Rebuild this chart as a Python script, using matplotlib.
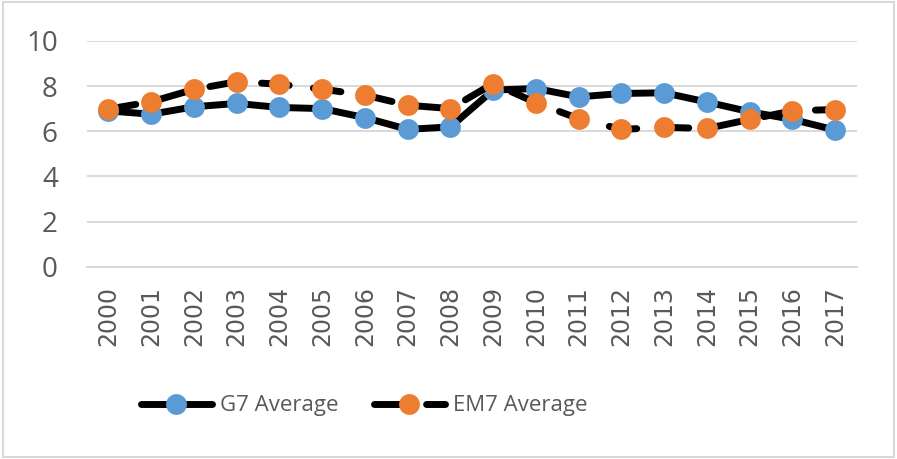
import matplotlib
matplotlib.use("Agg")
import matplotlib.pyplot as plt
from matplotlib.patches import Rectangle

# data
years = [str(y) for y in range(2000, 2018)]
g7_avg = [6.9, 6.75, 7.08, 7.23, 7.05, 7.0, 6.6, 6.08, 6.19, 7.82,
          7.89, 7.52, 7.67, 7.7, 7.29, 6.86, 6.52, 6.05]
em7_avg = [6.98, 7.3, 7.85, 8.19, 8.08, 7.86, 7.6, 7.15, 7.0, 8.11,
           7.26, 6.55, 6.08, 6.17, 6.12, 6.52, 6.9, 6.96]
y_ticks = [0, 2, 4, 6, 8, 10]

BLUE = "#5B9BD5"
ORANGE = "#ED7D31"
GRAY_TXT = "#595959"
GRID = "#D9D9D9"

fig = plt.figure(figsize=(8.97, 4.59), dpi=100)
ax = fig.add_axes([0.097, 0.419, 0.858, 0.492])

x = list(range(len(years)))
ax.plot(x, g7_avg, color="black", lw=5, solid_capstyle="round",
        solid_joinstyle="round", marker="o", markersize=15,
        markerfacecolor=BLUE, markeredgewidth=0, label="G7 Average", zorder=3)
ax.plot(x, em7_avg, color="black", lw=5, linestyle=(0, (4, 3.5)),
        dash_capstyle="round", dash_joinstyle="round", marker="o", markersize=15,
        markerfacecolor=ORANGE, markeredgewidth=0, label="EM7 Average", zorder=4)

ax.set_xlim(-0.5, len(years) - 0.5)
ax.set_ylim(0, 10)
ax.set_yticks(y_ticks)
ax.set_yticklabels([str(v) for v in y_ticks], family="Open Sans",
                   fontsize=20, color=GRAY_TXT)
ax.set_xticks(x)
ax.set_xticklabels(years, rotation=90, family="DejaVu Sans",
                   fontsize=17, color=GRAY_TXT)
ax.tick_params(axis="y", length=0, pad=21)
ax.tick_params(axis="x", length=0, pad=14)

ax.grid(axis="y", color=GRID, lw=1.4)
ax.set_axisbelow(True)
for s in ax.spines.values():
    s.set_visible(False)
ax.spines["bottom"].set_visible(True)
ax.spines["bottom"].set_color(GRID)
ax.spines["bottom"].set_linewidth(1.4)

fig.legend(loc="center", bbox_to_anchor=(364 / 897, 1 - 406 / 459), ncol=2,
           frameon=False, prop={"family": "Open Sans", "size": 16},
           labelcolor=GRAY_TXT, handlelength=3.2, handletextpad=0.35,
           columnspacing=1.6, borderaxespad=0)

# light gray frame around the whole chart
fig.patches.append(Rectangle((0.003, 0.004), 0.994, 0.992, transform=fig.transFigure,
                             fill=False, edgecolor=GRID, lw=1.5))

fig.savefig("out.png", dpi=100)
